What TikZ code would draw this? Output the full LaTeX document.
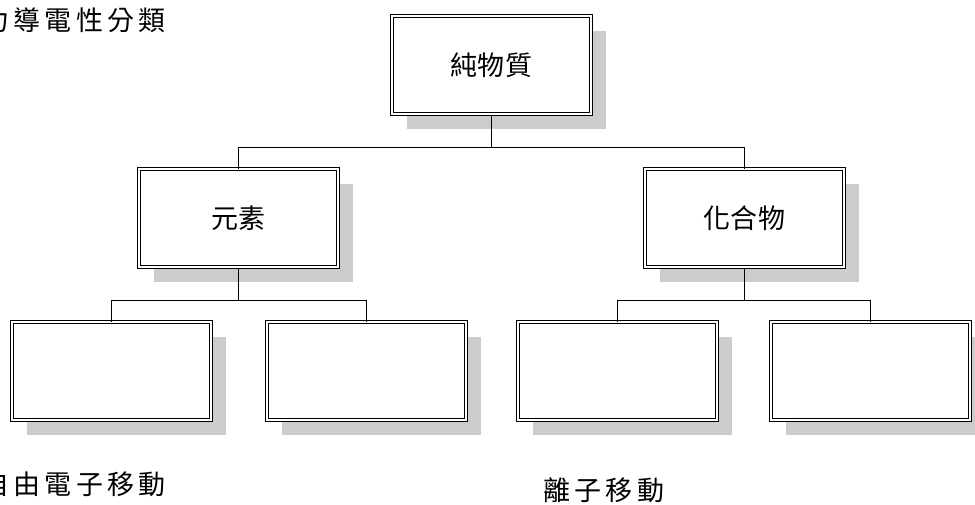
\documentclass[tikz,border=0pt]{standalone}
\usepackage{fontspec}
\newfontfamily\cjkbox[LetterSpace=2]{Noto Sans CJK TC}
\newfontfamily\cjkwide[LetterSpace=16]{Noto Sans CJK TC}
\usepackage{xcolor}
\usetikzlibrary{positioning, shadows}
\definecolor{shadowgray}{RGB}{204,204,204}
\tikzset{
  classbox/.style={rectangle,draw=black,double=white,double distance=2pt,
    line width=1pt,fill=white,minimum width=199pt,minimum height=98pt,
    inner sep=0pt,font=\cjkbox\fontsize{27}{32}\selectfont,
    drop shadow={shadow xshift=15pt,shadow yshift=-15pt,fill=shadowgray,opacity=1}},
  link/.style={draw=black,line width=0.9pt},
  note/.style={anchor=west,inner sep=0pt,font=\cjkwide\fontsize{27}{32}\selectfont}
}
\begin{document}
\begin{tikzpicture}[x=1pt,y=1pt,node distance=54pt and 54pt]
  \useasboundingbox (0,0) rectangle (975,-504);
  % tree of classes
  \node[classbox] (pure) at (491.5,-65) {純物質};
  \node[classbox, below=of pure, xshift=-253pt] (elem) {元素};
  \node[classbox, below=of pure, xshift=253pt] (comp) {化合物};
  \node[classbox, below=of elem, xshift=-127pt] (elemA) {};
  \node[classbox, below=of elem, xshift=128pt] (elemB) {};
  \node[classbox, below=of comp, xshift=-127pt] (compA) {};
  \node[classbox, below=of comp, xshift=126pt] (compB) {};

  \draw[link] (pure.south) -- ++(0,-33pt) -| (elem.north);
  \draw[link] (pure.south) -- ++(0,-33pt) -| (comp.north);
  \draw[link] (elem.south) -- ++(0,-33pt) -| (elemA.north);
  \draw[link] (elem.south) -- ++(0,-33pt) -| (elemB.north);
  \draw[link] (comp.south) -- ++(0,-33pt) -| (compA.north);
  \draw[link] (comp.south) -- ++(0,-33pt) -| (compB.north);

  % loose texts
  \node[note] (title) at (-18,-20) {力導電性分類};
  \node[note] (free) at (-18,-484) {自由電子移動};
  \node[note] (ion) at (543,-490) {離子移動};
\end{tikzpicture}
\end{document}
